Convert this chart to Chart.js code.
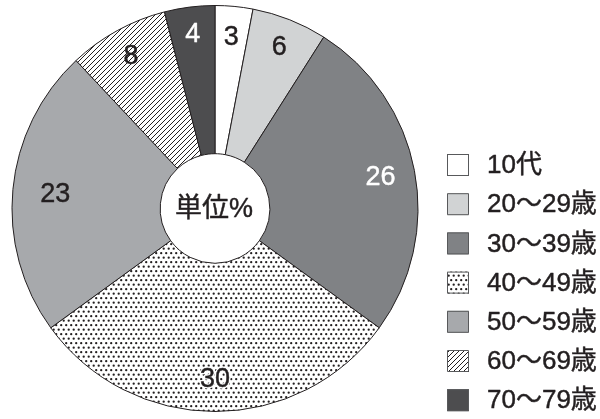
<!DOCTYPE html>
<html>
<head>
<meta charset="utf-8">
<script src="https://cdn.jsdelivr.net/npm/chart.js@4/dist/chart.umd.min.js"></script>
<style>
  html, body { margin: 0; padding: 0; background: #fff; }
  #wrap { width: 600px; height: 419px; }
</style>
</head>
<body>
<div id="wrap"><canvas id="pieChart" width="600" height="419"></canvas></div>
<script>
const ageGroups = ['10代', '20〜29歳', '30〜39歳', '40〜49歳', '50〜59歳', '60〜69歳', '70〜79歳'];
const shares = [3, 6, 26, 30, 23, 8, 4];
const labelColors = ['#231f20', '#231f20', '#ffffff', '#231f20', '#231f20', '#231f20', '#ffffff'];
// how far out each value label sits, as a fraction of the outer radius
const labelRadius = [0.85, 0.86, 0.83, 0.84, 0.79, 0.86, 0.87];

const FONT = "'Liberation Sans', 'Noto Sans CJK JP', sans-serif";
const INK = '#231f20';

// Small repeating tiles for the two patterned slices
function dotPattern() {
  const c = document.createElement('canvas');
  c.width = 5;
  c.height = 9;
  const g = c.getContext('2d');
  g.fillStyle = '#fff';
  g.fillRect(0, 0, 5, 9);
  g.fillStyle = INK;
  g.beginPath();
  g.arc(1.2, 1.2, 1.15, 0, Math.PI * 2);
  g.closePath();
  g.moveTo(4.85, 5.7);
  g.arc(3.7, 5.7, 1.15, 0, Math.PI * 2);
  g.fill();
  return g.createPattern(c, 'repeat');
}

function hatchPattern() {
  const s = 5;
  const c = document.createElement('canvas');
  c.width = s;
  c.height = s;
  const g = c.getContext('2d');
  g.fillStyle = '#fff';
  g.fillRect(0, 0, s, s);
  g.strokeStyle = INK;
  g.lineWidth = 1;
  g.beginPath();
  g.moveTo(-1, s + 1);
  g.lineTo(s + 1, -1);
  g.moveTo(-1, 1);
  g.lineTo(1, -1);
  g.moveTo(s - 1, s + 1);
  g.lineTo(s + 1, s - 1);
  g.stroke();
  return g.createPattern(c, 'repeat');
}

const fills = ['#ffffff', '#d1d3d4', '#808285', dotPattern(), '#a7a9ac', hatchPattern(), '#4d4d4f'];

// Text drawn with a hairline outline so it reads a little heavier
function heavyText(ctx, text, x, y, color, halo) {
  ctx.lineJoin = 'round';
  if (halo) {
    ctx.strokeStyle = '#fff';
    ctx.lineWidth = 3;
    ctx.strokeText(text, x, y);
  }
  ctx.fillStyle = color;
  ctx.strokeStyle = color;
  ctx.lineWidth = 0.45;
  ctx.fillText(text, x, y);
  ctx.strokeText(text, x, y);
}

// Value labels placed along each slice's middle angle
const sliceLabels = {
  id: 'sliceLabels',
  afterDatasetsDraw(chart) {
    const ctx = chart.ctx;
    const meta = chart.getDatasetMeta(0);
    const fill = chart.data.datasets[0].backgroundColor;
    ctx.save();
    ctx.font = '27px ' + FONT;
    ctx.textAlign = 'center';
    ctx.textBaseline = 'middle';
    meta.data.forEach((arc, i) => {
      const p = arc.getProps(['x', 'y', 'startAngle', 'endAngle', 'outerRadius'], true);
      const mid = (p.startAngle + p.endAngle) / 2;
      const r = p.outerRadius * labelRadius[i];
      const patterned = typeof fill[i] !== 'string';
      heavyText(ctx, String(shares[i]), p.x + Math.cos(mid) * r, p.y + Math.sin(mid) * r + 1,
        labelColors[i], patterned && i === 3);
    });
    ctx.restore();
  }
};

// Unit note in the hole
const centerNote = {
  id: 'centerNote',
  afterDraw(chart) {
    const ctx = chart.ctx;
    const arc = chart.getDatasetMeta(0).data[0];
    ctx.save();
    ctx.font = '27px ' + FONT;
    ctx.textAlign = 'center';
    ctx.textBaseline = 'middle';
    heavyText(ctx, '単位%', arc.x - 1, arc.y + 1, INK, false);
    ctx.restore();
  }
};

// Legend column on the right
const sideLegend = {
  id: 'sideLegend',
  afterDraw(chart) {
    const ctx = chart.ctx;
    const bg = chart.data.datasets[0].backgroundColor;
    const boxX = 447, box = 22, firstY = 165, step = 39.2;
    ctx.save();
    ctx.font = '26px ' + FONT;
    ctx.textBaseline = 'middle';
    ageGroups.forEach((name, i) => {
      const cy = firstY + i * step;
      ctx.fillStyle = bg[i];
      ctx.fillRect(boxX, cy - box / 2, box, box);
      ctx.strokeStyle = '#58595b';
      ctx.lineWidth = 1;
      ctx.strokeRect(boxX + 0.5, cy - box / 2 + 0.5, box - 1, box - 1);
      heavyText(ctx, name, 487, cy + 1, INK, false);
    });
    ctx.restore();
  }
};

new Chart(document.getElementById('pieChart'), {
  type: 'doughnut',
  data: {
    labels: ageGroups,
    datasets: [{
      data: shares,
      backgroundColor: fills,
      borderColor: INK,
      borderWidth: 1
    }]
  },
  options: {
    responsive: false,
    animation: false,
    cutout: '27%',
    layout: {
      padding: { top: 5, bottom: 7, left: 0, right: 170 }
    },
    plugins: {
      legend: { display: false },
      tooltip: { enabled: false }
    }
  },
  plugins: [sliceLabels, centerNote, sideLegend]
});
</script>
</body>
</html>
